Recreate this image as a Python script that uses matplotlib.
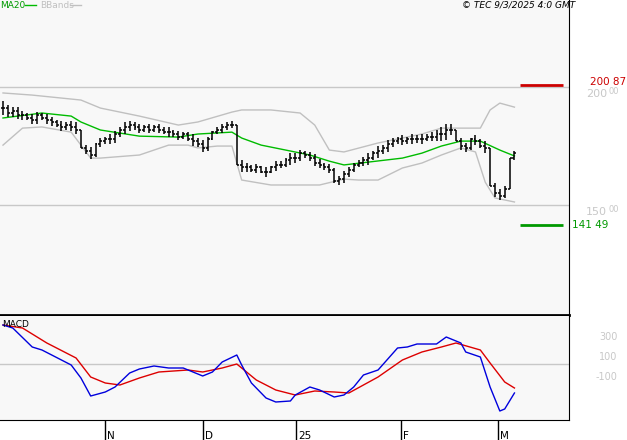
import matplotlib
matplotlib.use("Agg")
import matplotlib.pyplot as plt
from matplotlib.transforms import ScaledTranslation

closes = [191,189,190,188, 188,187,186,188,187,186, 185,184,183,184,183,182, 174,173, 171,
          176,177,178,178,180,182, 183,184,183,182,183, 182,183,182,181,181, 180,179,180,178,177,
          176,174,178, 181,182,183,184,184, 167,166,166,165,166,164,164, 166,167,167,169,170,
          170,172,171,170,168, 167,166,165, 160,161,163,165, 167,168,169,170, 172,173,174,176,
          177,178,177,178,178, 178,178,179,179,180, 180,182,182,177, 175,174,178,177, 175,174,
          158,155,154, 157, 170,172]
ranges = [6,5,4,5, 4,3,4,5,3,4, 4,3,4,3,4,5, 6,4, 5,
          6,4,3,4,5,4, 5,4,3,4,3, 4,3,4,3,4, 3,4,3,4,5,
          4,5,6, 4,3,4,3,3, 12,5,4,3,4,3,4, 3,4,3,4,5,
          4,5,3,4,5, 4,3,4, 6,4,5,4, 4,3,4,5, 4,5,4,5,
          4,3,4,3,4, 3,4,3,4,5, 6,7,5,4, 5,4,5,4, 4,5,
          12,6,5, 5,9,4]

ma_idx = [0,8,14,16,20,28,36,40,47,49,53,59,63,67,70,75,82,86,90,94,98,102,105]
ma_val = [186.9,189.0,187.7,185.2,181.8,179.2,178.8,180.1,180.9,178.4,175.4,172.9,171.2,168.6,
          167.0,168.2,169.9,172.0,175.0,177.1,177.1,173.3,170.8]
up_idx = [0,6,16,20,28,36,40,47,49,55,61,64,67,70,77,86,90,94,98,100,102,105]
up_val = [197.5,196.6,194.5,191.1,187.7,183.9,185.2,189.4,190.3,190.3,189.0,183.9,173.3,172.5,
          176.3,180.1,182.6,182.6,182.6,190.3,193.2,191.5]
lo_idx = [0,4,8,14,18,20,28,34,38,40,44,47,49,55,61,65,70,73,77,82,86,90,94,97,99,101,105]
lo_val = [175.4,182.6,183.1,180.9,169.9,169.9,171.2,175.4,175.4,174.2,175.0,175.0,160.6,158.5,
          158.5,158.5,161.0,160.6,160.6,165.7,167.8,171.2,174.2,172.5,159.7,153.0,151.3]

macd_idx = [0,2,6,8,10,14,16,18,21,23,26,28,31,34,37,39,41,43,45,48,49,51,54,56,59,60,63,65,68,70,
            72,74,77,81,83,85,89,91,94,95,98,100,102,103,105]
macd_val = [390,360,170,140,90,-10,-140,-320,-280,-230,-90,-50,-20,-40,-40,-80,-120,-80,20,90,-10,
            -190,-340,-380,-370,-310,-230,-260,-330,-310,-230,-110,-60,160,170,200,200,270,210,120,
            70,-230,-470,-450,-290]
sig_idx = [0,4,9,15,18,21,24,28,32,38,41,45,48,52,56,60,64,68,71,77,82,86,90,93,98,100,103,105]
sig_val = [390,360,210,60,-130,-190,-210,-140,-80,-60,-80,-40,0,-160,-260,-310,-270,-280,-290,-130,
           40,120,170,210,140,10,-180,-240]

tick_idx = [21, 41, 60.2, 81.7, 101.6]
tick_lab = ["N", "D", "25", "F", "M"]

W, H = 627, 440
fig = plt.figure(figsize=(W/100, H/100), dpi=100)
fig.patch.set_facecolor("white")
bg = "#f8f8f8"
x0, x1 = -0.616, 116.2

ax = fig.add_axes([0, (H-315)/H, 569/W, 315/H])
ax.set_facecolor(bg)
ax.set_xlim(x0, x1)
ax.set_ylim(103.4, 236.9)
for s in ax.spines.values():
    s.set_visible(False)
ax.spines["right"].set_visible(True); ax.spines["right"].set_color("black")
ax.spines["bottom"].set_visible(True); ax.spines["bottom"].set_linewidth(2)
ax.set_xticks([]); ax.set_yticks([])
for v in (200, 150):
    ax.axhline(v, color="#c8c8c8", lw=1)
ax.plot(up_idx, up_val, color="#c0c0c0", lw=1)
ax.plot(lo_idx, lo_val, color="#c0c0c0", lw=1)
ax.plot(ma_idx, ma_val, color="#00bb00", lw=1)
opens = [closes[0]] + closes[:-1]
for i, (o, c, r) in enumerate(zip(opens, closes, ranges)):
    hi = max(max(o, c), (o+c)/2 + r/2)
    lo = min(min(o, c), (o+c)/2 - r/2)
    ax.vlines(i, lo, hi, color="black", lw=1.1)
    ax.hlines(o, i-0.4, i, color="black", lw=1.1)
    ax.hlines(c, i, i+0.4, color="black", lw=1.1)
ax.hlines(200.87, 106.2, 114.9, color="#cc0000", lw=2)
ax.hlines(141.49, 106.2, 114.9, color="#009900", lw=2)
yt = ax.get_yaxis_transform()
ax.text(1.037, 202.0, "200 87", color="#cc0000", fontsize=7.5, va="center",
        transform=yt, clip_on=False)
ax.text(1.005, 141.49, "141 49", color="#009900", fontsize=7.5, va="center",
        transform=yt, clip_on=False)
for v in (200, 150):
    ax.text(1.030, v - 3.0, str(v), color="#c8c8c8", fontsize=8, va="center",
            transform=yt, clip_on=False)
    ax.text(1.070, v - 2.0, "00", color="#c8c8c8", fontsize=6, va="center",
            transform=yt, clip_on=False)

fig.text(0/W, 1-5/H, "MA20", color="#009900", fontsize=6.5, va="center")
fig.add_artist(plt.Line2D([25/W, 36/W], [1-5/H, 1-5/H], color="#00bb00", lw=1))
fig.text(40/W, 1-5/H, "BBands", color="#c0c0c0", fontsize=6.5, va="center")
fig.add_artist(plt.Line2D([70/W, 81/W], [1-5/H, 1-5/H], color="#c0c0c0", lw=1))
fig.text(1-52/W, 1-5/H, "© TEC 9/3/2025 4:0 GMT", color="black", fontsize=6.5,
         style="italic", va="center", ha="right")

mx = fig.add_axes([0, 20/H, 569/W, 104/H])
mx.set_facecolor(bg)
mx.set_xlim(x0, x1)
mx.set_ylim(-560, 480)
for s in mx.spines.values():
    s.set_visible(False)
mx.spines["right"].set_visible(True)
mx.spines["bottom"].set_visible(True)
mx.set_yticks([])
mx.axhline(0, color="#c8c8c8", lw=1)
mx.plot(sig_idx, sig_val, color="#dd0000", lw=1)
mx.plot(macd_idx, macd_val, color="#0000dd", lw=1)
mx.text(0.003, 0.92, "MACD", fontsize=6.5, transform=mx.transAxes, va="center")
for v, lab in ((300, "300"), (100, "100"), (-100, "-100")):
    mx.text(1.085, v - 30, lab, color="#c8c8c8", fontsize=7, va="center", ha="right",
            transform=mx.get_yaxis_transform(), clip_on=False)
mx.set_xticks(tick_idx)
mx.set_xticklabels(tick_lab, fontsize=7.5, ha="left")
mx.tick_params(axis="x", direction="out", length=17, width=1, pad=-9)
for lbl in mx.get_xticklabels():
    lbl.set_transform(lbl.get_transform() + ScaledTranslation(2/100, 0, fig.dpi_scale_trans))

fig.savefig("out.png", dpi=100)
